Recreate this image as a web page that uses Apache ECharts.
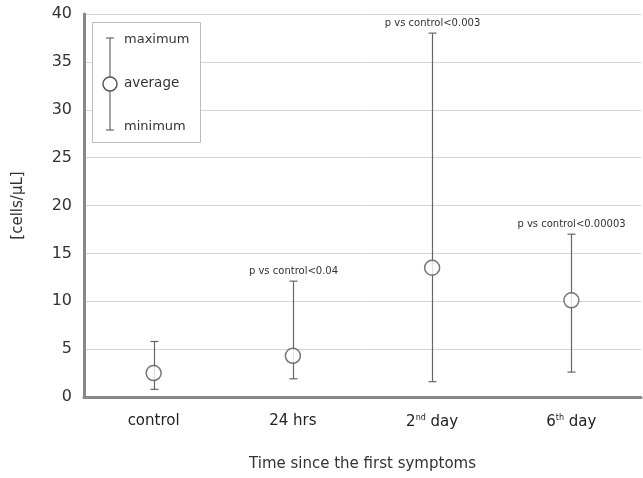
<!DOCTYPE html>
<html><head><meta charset="utf-8">
<script src="https://cdn.jsdelivr.net/npm/echarts@6/dist/echarts.min.js"></script>
<style>html,body{margin:0;padding:0;background:#fff}#c{width:643px;height:478px}</style>
</head><body><div id="c"></div>
<script>
const categories = ['control', '24 hrs', '2{sup|nd} day', '6{sup|th} day'];
const averages = [2.5, 4.3, 13.5, 10.1];
const maximums = [5.8, 12.1, 38.0, 17.0];
const minimums = [0.8, 1.9, 1.6, 2.6];
const pLabels = ['', 'p vs control<0.04', 'p vs control<0.003', 'p vs control<0.00003'];
const yTicks = [0, 5, 10, 15, 20, 25, 30, 35, 40];

const chart = echarts.init(document.getElementById('c'));
const font = '"DejaVu Sans", Verdana, sans-serif';
const barData = categories.map((c, i) => [i, minimums[i], maximums[i]]);

chart.setOption({
  animation: false,
  backgroundColor: '#fff',
  grid: { left: 84, right: 2, top: 14, bottom: 81 },
  xAxis: {
    type: 'category',
    data: categories,
    name: 'Time since the first symptoms',
    nameLocation: 'middle',
    nameGap: 60,
    nameTextStyle: { fontFamily: font, fontSize: 15, color: '#333' },
    axisLine: { lineStyle: { color: '#888', width: 3 } },
    axisTick: { show: false },
    axisLabel: { interval: 0, hideOverlap: false, fontFamily: font, fontSize: 15, color: '#222', margin: 17,
      rich: { sup: { fontFamily: font, fontSize: 8, verticalAlign: 'top', padding: [0, 0, 8, 0], color: '#222' } } }
  },
  yAxis: {
    type: 'value', min: 0, max: 40, interval: 5,
    name: '[cells/µL]',
    nameLocation: 'middle',
    nameGap: 58,
    nameTextStyle: { fontFamily: font, fontSize: 15, color: '#333' },
    axisLine: { show: true, lineStyle: { color: '#888', width: 3 } },
    axisTick: { show: false },
    axisLabel: { fontFamily: font, fontSize: 16, color: '#333', margin: 12,
      formatter: v => yTicks.includes(v) ? String(v) : '' },
    splitLine: { lineStyle: { color: '#d4d4d4', width: 1 } }
  },
  graphic: [
    { type: 'rect', left: 92, top: 22, shape: { width: 108, height: 120 },
      style: { fill: '#fff', stroke: '#bbb', lineWidth: 1 }, z: 10 },
    { type: 'line', shape: { x1: 110, y1: 38, x2: 110, y2: 130 }, style: { stroke: '#666', lineWidth: 1.2 }, z: 11 },
    { type: 'line', shape: { x1: 106, y1: 38, x2: 114, y2: 38 }, style: { stroke: '#666', lineWidth: 1.2 }, z: 11 },
    { type: 'line', shape: { x1: 106, y1: 130, x2: 114, y2: 130 }, style: { stroke: '#666', lineWidth: 1.2 }, z: 11 },
    { type: 'circle', shape: { cx: 110, cy: 84, r: 7 }, style: { fill: '#fff', stroke: '#555', lineWidth: 1.5 }, z: 12 },
    { type: 'text', left: 124, top: 33, style: { text: 'maximum', font: '13px ' + font, fill: '#333' }, z: 12 },
    { type: 'text', left: 124, top: 76, style: { text: 'average', font: '13.5px ' + font, fill: '#333' }, z: 12 },
    { type: 'text', left: 124, top: 120, style: { text: 'minimum', font: '13px ' + font, fill: '#333' }, z: 12 }
  ],
  series: [
    {
      type: 'custom',
      data: barData,
      z: 3,
      renderItem: (params, api) => {
        const x = api.value(0);
        const lo = api.coord([x, api.value(1)]);
        const hi = api.coord([x, api.value(2)]);
        const cx = Math.round(lo[0]) + 0.5;
        const children = [
          { type: 'line', shape: { x1: cx, y1: lo[1], x2: cx, y2: hi[1] }, style: { stroke: '#666', lineWidth: 1.2 } },
          { type: 'line', shape: { x1: cx - 4, y1: lo[1], x2: cx + 4, y2: lo[1] }, style: { stroke: '#666', lineWidth: 1.2 } },
          { type: 'line', shape: { x1: cx - 4, y1: hi[1], x2: cx + 4, y2: hi[1] }, style: { stroke: '#666', lineWidth: 1.2 } }
        ];
        const t = pLabels[params.dataIndex];
        if (t) {
          children.push({ type: 'text', style: { text: t, x: cx, y: hi[1] - 5, align: 'center', verticalAlign: 'bottom',
            font: '10px ' + font, fill: '#333' } });
        }
        return { type: 'group', children };
      }
    },
    {
      type: 'scatter',
      data: averages,
      symbol: 'circle',
      symbolSize: 15,
      z: 5,
      itemStyle: { color: '#fff', borderColor: '#555', borderWidth: 1.5 }
    }
  ]
});
</script></body></html>
